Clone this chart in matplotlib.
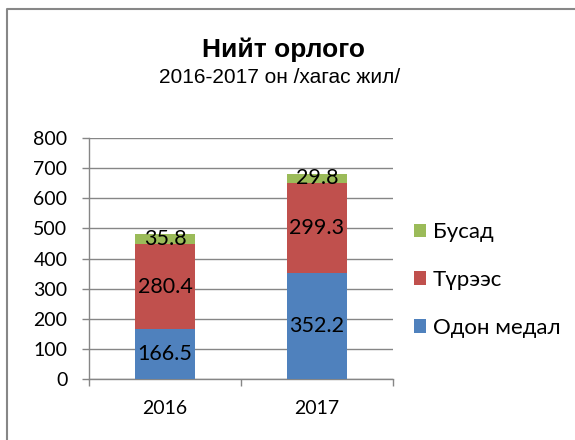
import matplotlib
matplotlib.use("Agg")
import matplotlib.pyplot as plt
from matplotlib.lines import Line2D
from matplotlib.patches import Patch
import numpy as np

years = ["2016", "2017"]
series_names = ["Одон медал", "Түрээс", "Бусад"]
odon_medal = [166.5, 352.2]
turees = [280.4, 299.3]
busad = [35.8, 29.8]
colors = ["#4F81BD", "#C0504D", "#9BBB59"]
y_ticks = [0, 100, 200, 300, 400, 500, 600, 700, 800]

title = "Нийт орлого"
subtitle = "2016-2017 он /хагас жил/"

fig = plt.figure(figsize=(5.75, 4.40), dpi=100)
ax = fig.add_axes([89/575, 1-379/440, (393-89)/575, (379-138)/440])

x = np.arange(len(years))
series = [odon_medal, turees, busad]
bottom = np.zeros(len(years))
handles = []
for name, vals, col in zip(series_names, series, colors):
    bars = ax.bar(x, vals, width=0.4, bottom=bottom, color=col, zorder=3, label=name)
    ax.bar_label(bars, labels=[f"{v:.1f}" for v in vals], label_type="center",
                 fontsize=15.5, family="Lato", color="black", zorder=4)
    bottom = bottom + np.array(vals)
    handles.append(Patch(facecolor=col, edgecolor="none", label=name))

grid_col = "#868686"
ax.set_xlim(-0.5, 1.5)
ax.set_ylim(0, 800)
ax.set_yticks(y_ticks)
ax.set_yticklabels([str(t) for t in y_ticks], fontsize=14, family="Lato")
ax.yaxis.grid(True, color=grid_col, linewidth=1, zorder=0)
ax.set_axisbelow(True)

ax.set_xticks(x)
ax.set_xticklabels(years, fontsize=14, family="Lato")
ax.set_xticks([-0.5, 0.5, 1.5], minor=True)
ax.tick_params(axis="x", which="major", length=0, pad=15)
ax.tick_params(axis="x", which="minor", length=5, color=grid_col, width=1)
ax.tick_params(axis="y", length=5, color=grid_col, width=1, pad=10.5)

for s in ["top", "right"]:
    ax.spines[s].set_visible(False)
for s in ["left", "bottom"]:
    ax.spines[s].set_color(grid_col)
    ax.spines[s].set_linewidth(1)

leg = fig.legend(handles=handles[::-1], loc="center left",
                 bbox_to_anchor=(414/575, 1-280/440), frameon=False,
                 prop={"family": "Lato", "size": 16}, handlelength=0.55,
                 handleheight=0.55, handletextpad=0.3, labelspacing=1.25,
                 borderpad=0, borderaxespad=0)

fig.text(284/575, 1-50/440, title, ha="center", va="center", fontsize=19,
         fontweight="bold", family="Liberation Sans")
fig.text(280/575, 1-77/440, subtitle, ha="center", va="center", fontsize=15,
         family="Liberation Sans")

bx = 6.5/575
by = 1-9/440
fig.add_artist(Line2D([bx, bx, 1], [0, by, by], transform=fig.transFigure,
                      color="#878787", linewidth=1.5))

fig.savefig("out.png", dpi=100)
